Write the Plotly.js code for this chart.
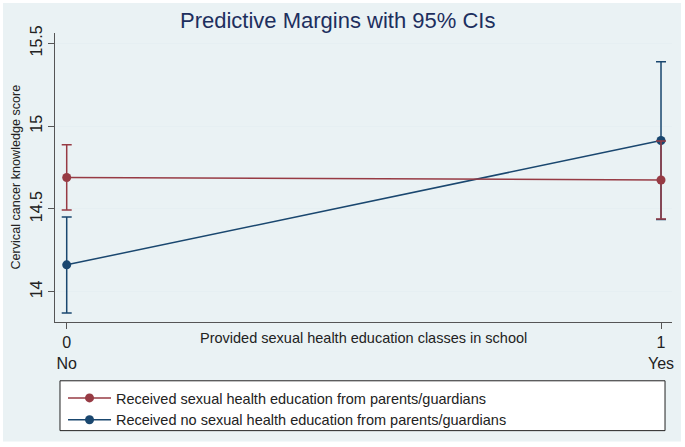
<!DOCTYPE html>
<html>
<head>
<meta charset="utf-8">
<script src="https://cdn.plot.ly/plotly-3.0.1.min.js"></script>
<style>html,body{margin:0;padding:0;background:#fff;}#chart{width:685px;height:447px;}</style>
</head>
<body>
<div id="chart"></div>
<script>
const xVals = [0, 1];
const xTickText = ['0<br>No', '1<br>Yes'];
const yTickVals = [14, 14.5, 15, 15.5];
const yTickText = ['14', '14.5', '15', '15.5'];
const parentsYes = [14.69, 14.675];
const parentsYesPlus = [0.197, 0.235];
const parentsYesMinus = [0.196, 0.235];
const parentsNo = [14.163, 14.913];
const parentsNoPlus = [0.289, 0.476];
const parentsNoMinus = [0.29, 0.476];
const seriesNames = ['Received sexual health education from parents/guardians',
                     'Received no sexual health education from parents/guardians'];

const RED = '#973b44', BLUE = '#1a476f';
const FONT = 'Liberation Sans, Arial, sans-serif';

const traces = [
  {
    x: xVals, y: parentsNo, name: seriesNames[1], type: 'scatter', mode: 'lines+markers',
    line: {color: BLUE, width: 1.5}, marker: {color: BLUE, size: 9},
    error_y: {type: 'data', array: parentsNoPlus, arrayminus: parentsNoMinus, color: BLUE, thickness: 1.5, width: 5},
    legendrank: 2
  },
  {
    x: xVals, y: parentsYes, name: seriesNames[0], type: 'scatter', mode: 'lines+markers',
    line: {color: RED, width: 1.5}, marker: {color: RED, size: 9},
    error_y: {type: 'data', array: parentsYesPlus, arrayminus: parentsYesMinus, color: RED, thickness: 1.5, width: 5},
    legendrank: 1
  }
];

const layout = {
  width: 685, height: 447,
  margin: {l: 55, r: 13, t: 33, b: 124},
  paper_bgcolor: '#ffffff', plot_bgcolor: '#ffffff',
  font: {family: FONT, size: 13, color: '#222'},
  title: {text: 'Predictive Margins with 95% CIs', font: {family: FONT, size: 22, color: '#1d2f5e'},
          xref: 'container', x: 0.493, xanchor: 'center', yref: 'container', y: 0.955, yanchor: 'middle'},
  xaxis: {
    range: [-0.0197, 1.0185], tickvals: xVals, ticktext: xTickText,
    showgrid: false, zeroline: false, showline: true, linecolor: '#555', linewidth: 1,
    ticks: 'outside', ticklen: 6, tickcolor: '#555', tickfont: {size: 16, color: '#222'}
  },
  yaxis: {
    range: [13.818, 15.562], tickvals: yTickVals, ticktext: yTickText,
    tickangle: -90, showgrid: true, gridcolor: '#e6eff2', gridwidth: 1, zeroline: false,
    showline: true, linecolor: '#555', linewidth: 1, ticks: 'outside', ticklen: 6, tickcolor: '#555',
    tickfont: {size: 16, color: '#222'}
  },
  showlegend: true,
  legend: {
    x: 0.013, y: -0.2034, xanchor: 'left', yanchor: 'top',
    bgcolor: 'rgba(0,0,0,0)', borderwidth: 0, font: {size: 14.5, color: '#222'},
    tracegroupgap: 0, itemwidth: 43
  },
  annotations: [
    {text: 'Provided sexual health education classes in school', xref: 'paper', yref: 'paper',
     x: 0.5, y: -0.055, xanchor: 'center', yanchor: 'middle', showarrow: false,
     font: {size: 14.5, color: '#222'}},
    {text: 'Cervical cancer knowledge score', xref: 'paper', yref: 'paper', textangle: -90,
     x: -0.0648, y: 0.5, xanchor: 'center', yanchor: 'middle', showarrow: false,
     font: {size: 12.6, color: '#222'}}
  ],
  shapes: [
    {type: 'rect', xref: 'paper', yref: 'paper', x0: -0.0843, x1: 1.0146, y0: -0.4138, y1: 1.1034,
     fillcolor: '#eaf2f4', line: {width: 0}, layer: 'below'},
    {type: 'rect', xref: 'paper', yref: 'paper', x0: 0.0081, x1: 0.9887, y0: -0.3759, y1: -0.2034,
     fillcolor: '#ffffff', line: {color: '#222', width: 1}, layer: 'below'}
  ]
};

Plotly.newPlot('chart', traces, layout, {displayModeBar: false, staticPlot: true});
</script>
</body>
</html>
